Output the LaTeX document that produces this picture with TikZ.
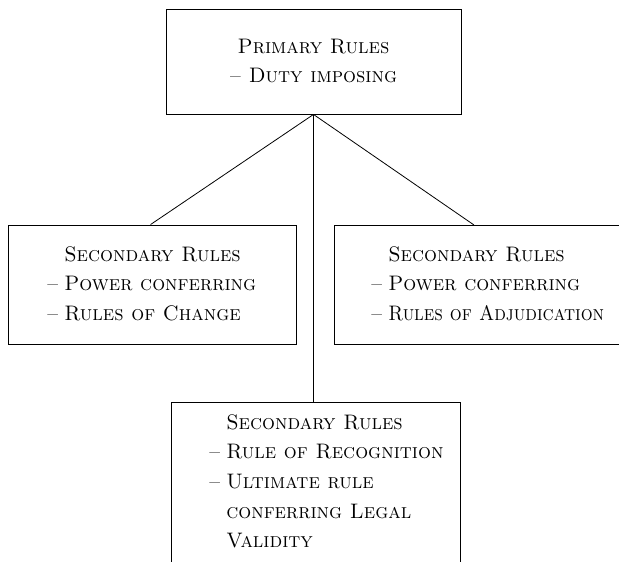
\documentclass[tikz,border=0pt]{standalone}
\newcommand{\rulelines}[2][l]{\scalebox{0.97}[1]{\begin{tabular}[t]{#2}#1\end{tabular}}}
\newcommand{\rulelist}[1]{\scalebox{0.97}[1]{\begin{tabular}[t]{@{}l@{\hspace{6pt}}l@{}}#1\end{tabular}}}
\begin{document}
\begin{tikzpicture}[x=1pt,y=-1pt,
  rulebox/.style={draw, line width=0.9pt, inner sep=0pt},
  ruletext/.style={inner sep=0pt, font=\fontsize{21}{29.7}\selectfont\scshape},
  link/.style={line width=0.8pt}]
\useasboundingbox (0,0) rectangle (619,562);
\clip (0,0) rectangle (619,562);

% boxes
\node[rulebox, minimum width=295pt, minimum height=105pt] (primary) at (313.5,61.5) {};
\node[rulebox, minimum width=288pt, minimum height=119pt] (change) at (152,284.5) {};
\node[rulebox, minimum width=300pt, minimum height=119pt, anchor=north west] (adjud) at (334,225) {};
\node[rulebox, minimum width=289pt, minimum height=200pt, anchor=north west] (recog) at (171,402) {};

% texts
\node[ruletext, anchor=base] (primarytxt) at (313.5,53)
  {\scalebox{0.97}[1]{\begin{tabular}[t]{@{}c@{}}Primary Rules\\ \textendash{} Duty imposing\end{tabular}}};
\node[ruletext, anchor=base west] (changetxt) at (47,261)
  {\rulelist{
    & Secondary Rules\\
    \textendash & Power conferring\\
    \textendash & Rules of Change}};
\node[ruletext, anchor=base west] (adjudtxt) at (371,261)
  {\rulelist{
    & Secondary Rules\\
    \textendash & Power conferring\\
    \textendash & \scalebox{0.92}[1]{Rules of Adjudication}}};
\node[ruletext, anchor=base west] (recogtxt) at (209,429)
  {\rulelist{
    & Secondary Rules\\
    \textendash & Rule of Recognition\\
    \textendash & Ultimate rule\\
    & conferring Legal\\
    & Validity}};

% connectors
\draw[link] (primary.south) -- ([xshift=143pt]change.north west);
\draw[link] (primary.south) -- ([xshift=140pt]adjud.north west);
\draw[link] (primary.south) -- (primary.south |- recog.north);
\end{tikzpicture}
\end{document}
